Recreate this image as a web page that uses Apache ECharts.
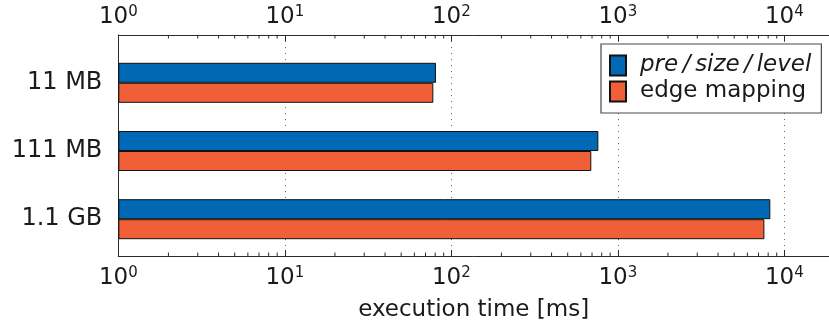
<!DOCTYPE html>
<html>
<head>
<meta charset="utf-8">
<script src="https://cdn.jsdelivr.net/npm/echarts@6/dist/echarts.min.js"></script>
<style>
html,body{margin:0;padding:0;background:#fff;}
#chart{width:829px;height:327px;}
</style>
</head>
<body>
<div id="chart"></div>
<script>
// ---- data ----
const categories = ['11 MB', '111 MB', '1.1 GB'];
const seriesNames = ['pre\u2009/\u2009size\u2009/\u2009level', 'edge mapping'];
const preSizeLevel = [80.9, 764, 8240];
const edgeMapping = [78.0, 693, 7590];
const decades = [1, 10, 100, 1000, 10000];
const axisMin = 1;
const axisMax = 18550;
const axisTitle = 'execution time [ms]';

// minor tick positions (2..9 in each decade)
const minorTicks = [];
decades.forEach(d => { for (let m = 2; m <= 9; m++) { if (d * m <= axisMax) minorTicks.push([d * m, 0.5]); } });

const FONT = 'DejaVu Sans';
const TXT = '#1a1a1a';
const AX = '#2a2a2a';

function powLabel(v) {
  const l = Math.log10(v);
  const e = Math.round(l);
  if (Math.abs(l - e) > 1e-6) return '';
  return '{b|10}{s|' + e + '}';
}
const labelRich = {
  b: {fontFamily: FONT, fontSize: 23, color: TXT},
  s: {fontFamily: FONT, fontSize: 15, color: TXT, padding: [0, 0, 10, 0]}
};

const chart = echarts.init(document.getElementById('chart'), null, {renderer: 'canvas'});
const gridL = 118.3, gridR = 0;
chart.setOption({
  animation: false,
  backgroundColor: '#fff',
  grid: [
    {left: gridL, right: gridR, top: 35, bottom: 61.3},
    {left: gridL, right: gridR, top: 48.7, bottom: 73.7}
  ],
  legend: {
    data: [
      {name: seriesNames[0], textStyle: {fontStyle: 'italic'}},
      {name: seriesNames[1]}
    ],
    orient: 'vertical',
    left: 601, top: 44,
    padding: [10, 10, 10, 8],
    itemWidth: 16, itemHeight: 20, itemGap: 3,
    icon: 'rect',
    backgroundColor: '#fff',
    borderColor: '#4a4a4a', borderWidth: 1.2,
    textStyle: {fontFamily: FONT, fontSize: 23, color: TXT, padding: [0, 0, 0, 9]},
    selectedMode: false
  },
  xAxis: [
    {
      gridIndex: 0, type: 'log', logBase: 10, min: axisMin, max: axisMax, position: 'bottom',
      axisLine: {show: true, onZero: false, lineStyle: {color: AX, width: 1}},
      axisTick: {show: true, inside: true, length: 6, lineStyle: {color: AX}},
      axisLabel: {formatter: powLabel, rich: labelRich, margin: 10, showMaxLabel: false},
      splitLine: {show: true, lineStyle: {color: '#666', type: [1, 5], width: 1}},
      name: axisTitle, nameLocation: 'middle', nameGap: 43,
      nameTextStyle: {fontFamily: FONT, fontSize: 23, color: TXT}
    },
    {
      gridIndex: 0, type: 'log', logBase: 10, min: axisMin, max: axisMax, position: 'top',
      axisLine: {show: true, onZero: false, lineStyle: {color: AX, width: 1}},
      axisTick: {show: true, inside: true, length: 6, lineStyle: {color: AX}},
      axisLabel: {formatter: powLabel, rich: labelRich, margin: 5, showMaxLabel: false},
      splitLine: {show: false}
    },
    {
      gridIndex: 1, type: 'log', logBase: 10, min: axisMin, max: axisMax, show: false
    }
  ],
  yAxis: [
    {
      gridIndex: 0, type: 'value', min: 0, max: 1,
      axisLine: {show: true, onZero: false, lineStyle: {color: AX, width: 1}},
      axisTick: {show: false}, axisLabel: {show: false}, splitLine: {show: false}
    },
    {
      gridIndex: 1, type: 'category', data: categories, inverse: true,
      axisLine: {show: false}, axisTick: {show: false}, splitLine: {show: false},
      axisLabel: {fontFamily: FONT, fontSize: 24, color: TXT, margin: 16}
    }
  ],
  series: [
    {
      name: seriesNames[0], type: 'bar', xAxisIndex: 2, yAxisIndex: 1,
      data: preSizeLevel, barWidth: 20, barGap: '0%',
      itemStyle: {color: '#0068b4', borderColor: '#111', borderWidth: 1}
    },
    {
      name: seriesNames[1], type: 'bar', xAxisIndex: 2, yAxisIndex: 1,
      data: edgeMapping, barWidth: 20, barGap: '0%',
      itemStyle: {color: '#f05f37', borderColor: '#111', borderWidth: 1}
    },
    {
      type: 'custom', xAxisIndex: 0, yAxisIndex: 0, silent: true,
      data: minorTicks,
      renderItem: function (params, api) {
        const x = api.coord([api.value(0), api.value(1)])[0];
        const cs = params.coordSys;
        const len = 3.5;
        return {
          type: 'group',
          children: [
            {type: 'line', shape: {x1: x, y1: cs.y, x2: x, y2: cs.y + len}, style: {stroke: AX, lineWidth: 1}},
            {type: 'line', shape: {x1: x, y1: cs.y + cs.height, x2: x, y2: cs.y + cs.height - len}, style: {stroke: AX, lineWidth: 1}}
          ]
        };
      }
    }
  ]
});
</script>
</body>
</html>
